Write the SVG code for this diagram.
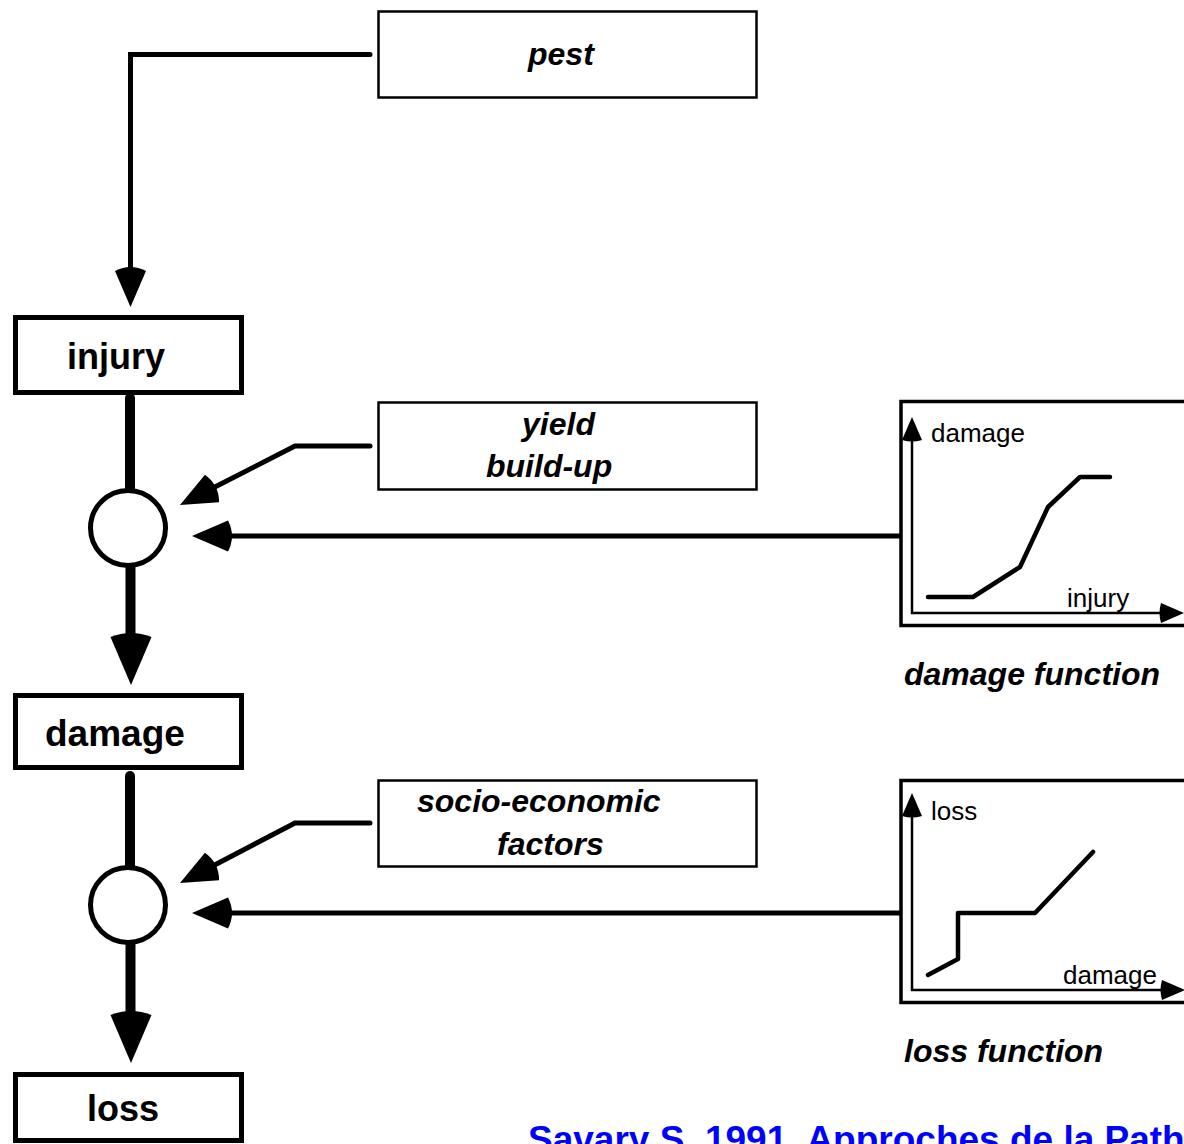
<svg xmlns="http://www.w3.org/2000/svg" xmlns:xlink="http://www.w3.org/1999/xlink" width="1184" height="1144" viewBox="0 0 1184 1144">
<style>
.bx{fill:#fff;stroke:#000;stroke-width:2.5}
.main{fill:#fff;stroke:#000;stroke-width:5}
.gbox{fill:#fff;stroke:#000;stroke-width:3.5}
.circ{fill:#fff;stroke:#000;stroke-width:5}
.ln{fill:none;stroke:#000;stroke-width:5;stroke-linecap:round;stroke-linejoin:miter}
.thick{fill:none;stroke:#000;stroke-width:10;stroke-linecap:round}
.axis{fill:none;stroke:#000;stroke-width:2.5}
.curve{fill:none;stroke:#000;stroke-width:4.5;stroke-linecap:round;stroke-linejoin:round}
.bi{font-family:"Liberation Sans",Arial,sans-serif;font-weight:bold;font-style:italic;font-size:32px;fill:#000}
.b{font-family:"Liberation Sans",Arial,sans-serif;font-weight:bold;font-size:36px;fill:#000}
.n{font-family:"Liberation Sans",Arial,sans-serif;font-size:26px;fill:#000}
.cite{font-family:"Liberation Sans",Arial,sans-serif;font-weight:bold;font-size:37px;fill:#0000ff}
</style>
<defs>
<path id="a1" d="M0,0 L-36,-15.5 Q-44,0 -36,15.5 Z" fill="#000"/>
<path id="a2" d="M0,0 L-48,-20.5 Q-56,0 -48,20.5 Z" fill="#000"/>
<path id="a3" d="M0,0 L-23,-10 Q-26,0 -23,10 Z" fill="#000"/>
</defs>

<g id="connectors">
<polyline class="ln" points="370,54.5 130.5,54.5 130.5,275"/>
<use xlink:href="#a1" transform="translate(130.5,307) rotate(90)"/>
<line class="thick" x1="130" y1="398" x2="130" y2="490"/>
<line class="thick" x1="130.5" y1="566" x2="130.5" y2="640"/>
<use xlink:href="#a2" transform="translate(131,685) rotate(90)"/>
<polyline class="ln" points="370,446 295,446 207,491"/>
<use xlink:href="#a1" transform="translate(180,505) rotate(152.8)"/>
<line class="ln" x1="900" y1="536" x2="224" y2="536"/>
<use xlink:href="#a1" transform="translate(192,536) rotate(180)"/>
<line class="thick" x1="130" y1="776" x2="130" y2="868"/>
<line class="thick" x1="130.5" y1="942" x2="130.5" y2="1017"/>
<use xlink:href="#a2" transform="translate(131,1063) rotate(90)"/>
<polyline class="ln" points="370,823 295,823 207,869"/>
<use xlink:href="#a1" transform="translate(180,883) rotate(152.8)"/>
<line class="ln" x1="900" y1="913" x2="224" y2="913"/>
<use xlink:href="#a1" transform="translate(192,913) rotate(180)"/>
</g>

<g id="pest">
<rect class="bx" x="378.5" y="11.5" width="378" height="86"/>
<text class="bi" x="528" y="65">pest</text>
</g>

<g id="injury">
<rect class="main" x="15.5" y="317.5" width="226" height="75"/>
<text class="b" x="67" y="369">injury</text>
</g>

<g id="join1">
<circle class="circ" cx="128" cy="528" r="37.5"/>
</g>

<g id="yield">
<rect class="bx" x="378.5" y="402.5" width="378" height="87"/>
<text class="bi" x="522" y="435">yield</text>
<text class="bi" x="486" y="477">build-up</text>
</g>

<g id="damage-function">
<rect class="gbox" x="901" y="401.5" width="300" height="224"/>
<polyline class="axis" points="912,437 912,613 1165,613"/>
<use xlink:href="#a3" transform="translate(912,417) rotate(-90)"/>
<use xlink:href="#a3" transform="translate(1184,613)"/>
<text class="n" x="931" y="442">damage</text>
<text class="n" x="1067" y="607">injury</text>
<polyline class="curve" points="928,597 973,597 1020,567 1048,507 1080,477 1110,477"/>
<text class="bi" x="904" y="685">damage function</text>
</g>

<g id="damage">
<rect class="main" x="15.5" y="695.5" width="226" height="72"/>
<text class="b" x="45" y="746" style="font-size:37px">damage</text>
</g>

<g id="join2">
<circle class="circ" cx="128" cy="905" r="37.5"/>
</g>

<g id="socio">
<rect class="bx" x="378.5" y="780.5" width="378" height="86"/>
<text class="bi" x="417" y="812">socio-economic</text>
<text class="bi" x="497" y="855">factors</text>
</g>

<g id="loss-function">
<rect class="gbox" x="901" y="780.5" width="300" height="222"/>
<polyline class="axis" points="912,812 912,990 1165,990"/>
<use xlink:href="#a3" transform="translate(912,793) rotate(-90)"/>
<use xlink:href="#a3" transform="translate(1185,990)"/>
<text class="n" x="931" y="820">loss</text>
<text class="n" x="1063" y="984">damage</text>
<polyline class="curve" points="928,975 958,959 958,913 1035,913 1093,852"/>
<text class="bi" x="904" y="1062">loss function</text>
</g>

<g id="loss">
<rect class="main" x="15.5" y="1074.5" width="226" height="66"/>
<text class="b" x="87" y="1121">loss</text>
</g>

<g id="citation">
<text class="cite" x="528" y="1152">Savary S. 1991. Approches de la Path</text>
</g>
</svg>
